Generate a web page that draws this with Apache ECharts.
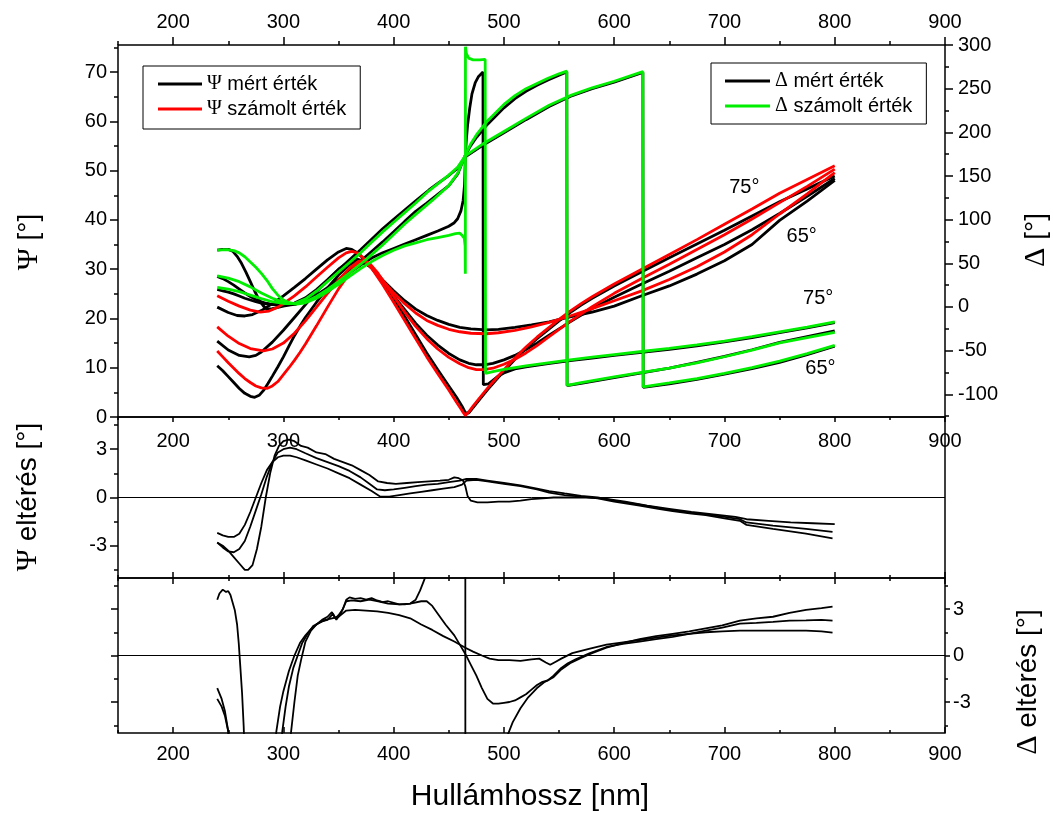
<!DOCTYPE html>
<html><head><meta charset="utf-8">
<script src="https://cdn.jsdelivr.net/npm/echarts@6/dist/echarts.min.js"></script>
<style>html,body{margin:0;padding:0;background:#fff}#c{width:1053px;height:814px}</style>
</head><body><div id="c"></div><script>
// ---------- tick values ----------
const xMajorTicks = [200,300,400,500,600,700,800,900];
const xMinorTicks = [150,250,350,450,550,650,750,850];
const psiMajorTicks = [0,10,20,30,40,50,60,70];
const psiMinorTicks = [5,15,25,35,45,55,65,75];
const deltaMajorTicks = [-100,-50,0,50,100,150,200,250,300];
const deltaMinorTicks = [-125,-75,-25,25,75,125,175,225,275];
const resMajorTicks = [-3,0,3];
const resMinorTicks = [-4.5,-1.5,1.5,4.5];

// ---------- Psi (left axis), [nm, deg] ----------
const psi75Meas = [[240,10.4],[245,9.4],[250,8.2],[255,7.0],[260,5.8],[265,4.8],[270,4.2],[274,4.0],[278,4.4],[282,5.4],[286,6.8],[290,8.3],[295,10.2],[300,12.2],[305,14.4],[310,16.5],[315,18.4],[320,20.2],[330,23.3],[340,26.2],[350,28.8],[360,30.9],[366,31.6],[370,31.5],[375,31.0],[380,30.5],[390,27.6],[400,24.0],[410,20.4],[420,16.7],[430,13.0],[440,9.6],[450,6.3],[457,4.0],[462,2.2],[465,0.9],[468,0.8],[472,1.9],[478,3.6],[485,5.5],[490,6.8],[500,9.3],[510,11.7],[520,13.9],[530,15.9],[541,17.9],[550,19.5],[560,21.2],[570,22.7],[580,24.1],[600,26.6],[625,29.5],[650,32.3],[675,35.1],[700,37.9],[725,40.8],[750,43.7],[775,46.3],[800,48.9]];
const psi75Calc = [[240,13.4],[245,12.2],[250,11.0],[255,9.9],[260,8.8],[265,7.8],[270,7.0],[275,6.3],[280,5.9],[285,5.8],[290,6.3],[295,7.2],[300,8.6],[305,10.0],[310,11.5],[315,13.1],[320,14.8],[330,18.5],[340,22.3],[350,26.0],[360,29.2],[366,30.8],[370,31.5],[373,31.6],[376,31.2],[380,30.2],[390,26.9],[400,23.3],[410,19.6],[420,15.9],[430,12.2],[440,8.8],[450,5.5],[457,3.0],[462,1.3],[465,0.3],[468,1.0],[472,2.2],[478,3.9],[485,5.8],[490,7.1],[500,9.6],[510,12.0],[520,14.2],[530,16.2],[541,18.2],[550,19.8],[560,21.5],[570,23.0],[580,24.4],[600,27.0],[625,30.0],[650,33.0],[675,36.0],[700,39.1],[725,42.2],[750,45.4],[775,48.2],[800,51.0]];
const psi70Meas = [[240,15.4],[250,13.6],[260,12.5],[269,12.2],[275,12.5],[280,13.2],[290,15.2],[300,17.6],[310,20.2],[320,22.8],[330,25.4],[340,27.8],[350,30.0],[360,31.6],[366,32.1],[372,31.7],[380,30.2],[390,27.4],[400,24.6],[410,21.8],[420,19.0],[430,16.6],[440,14.6],[450,12.9],[460,11.6],[468,10.9],[475,10.6],[482,10.6],[490,10.9],[500,11.6],[510,12.5],[520,13.7],[530,15.0],[541,16.6],[560,19.3],[580,22.0],[600,24.3],[625,27.0],[650,29.6],[675,32.3],[700,35.0],[725,38.0],[750,41.3],[775,44.8],[800,48.4]];
const psi70Calc = [[240,18.3],[250,16.4],[260,14.9],[270,13.9],[282,13.4],[290,13.8],[300,15.0],[310,17.0],[320,19.5],[330,22.3],[340,25.1],[350,27.8],[360,30.2],[368,31.6],[373,31.8],[378,31.2],[385,29.4],[390,27.8],[400,24.5],[410,21.3],[420,18.4],[430,15.9],[440,13.8],[450,12.1],[460,10.8],[468,10.0],[475,9.6],[482,9.6],[490,9.9],[500,10.7],[510,11.7],[520,13.0],[530,14.5],[541,16.3],[560,19.4],[580,22.4],[600,25.1],[625,28.1],[650,31.0],[675,34.0],[700,37.0],[725,40.2],[750,43.5],[775,46.8],[800,50.3]];
const psi65Meas = [[240,22.3],[250,21.2],[258,20.6],[265,20.5],[272,20.8],[280,21.6],[290,23.0],[300,24.6],[310,26.3],[320,28.1],[330,30.0],[340,31.9],[350,33.5],[357,34.2],[362,34.0],[368,33.2],[375,31.6],[380,30.3],[390,27.8],[400,25.6],[410,23.6],[420,21.9],[430,20.6],[440,19.6],[450,18.8],[460,18.2],[470,17.9],[484,17.7],[495,17.8],[510,18.2],[525,18.7],[541,19.3],[560,20.3],[580,21.3],[600,22.5],[625,24.6],[650,26.6],[675,29.0],[700,31.7],[725,35.0],[750,39.9],[775,43.8],[800,48.0]];
const psi65Calc = [[240,24.6],[250,23.5],[260,22.5],[270,21.7],[279,21.3],[287,21.5],[295,22.3],[300,23.0],[310,24.6],[320,26.4],[330,28.4],[340,30.4],[350,32.3],[357,33.3],[362,33.6],[367,33.3],[372,32.4],[380,30.4],[390,27.7],[400,25.2],[410,23.0],[420,21.1],[430,19.6],[440,18.6],[450,17.8],[460,17.3],[470,17.0],[484,16.9],[495,17.1],[510,17.6],[525,18.3],[541,19.2],[560,20.5],[580,22.0],[600,23.6],[625,25.6],[650,27.9],[675,30.5],[700,33.5],[725,37.0],[750,41.2],[775,45.3],[800,49.6]];

// ---------- Delta (right axis), [nm, deg] ----------
const delta75Meas = [[240,65],[245,66],[250,66],[254,64],[258,58],[262,50],[266,40],[270,29],[274,18],[278,8],[282,1],[285,-2.5],[290,-2],[295,-0.5],[300,1],[305,2],[310,3],[320,7],[330,13],[340,21],[350,30],[360,39],[370,48],[380,56],[390,62],[400,67],[410,72],[420,77],[430,82],[440,87],[450,92.5],[455,96.5],[458,101],[461,110],[463,122],[464.3,140],[465,172],[465.8,190],[467,208],[469,228],[471,244],[474,257],[477,264],[481,269],[481.3,-89],[486,-88],[490,-84],[495,-79],[500,-75.5],[510,-71],[520,-68.5],[540,-65],[560,-61.5],[580,-58.5],[600,-55.5],[625,-52],[650,-48.5],[675,-44.5],[700,-40],[725,-35],[750,-29.5],[775,-24],[800,-18]];
const delta75Calc = [[240,65],[245,65.5],[250,65.5],[255,64.5],[260,62],[265,57.5],[270,51.5],[275,45.5],[280,38.5],[285,30.5],[290,21],[295,13.5],[300,8],[305,5],[312,3.2],[320,4.8],[330,10],[340,17.5],[350,26],[360,35],[370,44],[380,52],[390,59],[400,65],[410,70],[420,73.5],[430,77],[440,79.5],[450,82],[456,84],[460,84.5],[462,82],[464,79],[464.8,70],[465,38],[465.1,298],[466,290],[468,285],[472,283],[478,283],[483,283.5],[483.3,-76],[490,-74],[500,-71.5],[520,-67.5],[540,-64],[560,-60.5],[580,-57.5],[600,-54.5],[625,-51],[650,-47.5],[675,-43.5],[700,-39],[725,-34],[750,-28.5],[775,-23],[800,-17]];
const delta70Meas = [[240,35],[245,32.5],[250,29],[255,25],[260,20.5],[265,16],[270,12],[275,8.5],[280,6],[285,4],[290,3],[300,2],[310,3],[320,6.5],[330,13.5],[340,22],[350,31.5],[360,42],[370,52.5],[380,63.5],[390,74.5],[400,86],[410,98],[420,109.5],[430,119],[440,129],[450,139],[458,152],[465,174],[470,185],[475,194],[485,209],[500,228],[510,238.5],[520,247],[530,254],[540,260],[550,265.5],[557,269],[557.3,-90],[570,-87.5],[600,-81],[625,-75.5],[650,-70],[675,-63.5],[700,-56.5],[725,-49],[750,-40.5],[775,-34],[800,-27.5]];
const delta70Calc = [[240,35.5],[250,33],[260,29],[270,23],[280,16],[290,10],[300,5.5],[310,3.5],[320,6],[330,12],[340,20],[350,29],[360,39],[370,49],[380,60],[390,71],[400,83],[410,95],[420,106],[435,122],[450,139],[458,153],[465,174],[470,187],[475,197],[485,213],[500,232],[510,242],[520,250],[530,256],[540,262],[550,267],[557,270],[557.3,-89.7],[570,-86.5],[600,-80],[625,-75],[650,-70],[675,-64],[700,-57],[725,-49.5],[750,-41],[775,-35],[800,-29]];
const delta65Meas = [[240,20],[245,18.5],[250,17],[255,15],[260,12.5],[265,10],[270,8],[275,6],[280,4.5],[290,2.8],[300,2.8],[310,4.5],[320,10.5],[330,20],[340,31],[350,42.5],[360,54],[370,65.5],[380,77.5],[390,89.5],[400,100.5],[410,111],[420,121.5],[432,134],[440,141.5],[450,150.5],[458,159],[465,172],[480,184.5],[500,199.5],[520,214.5],[541,229.5],[560,241],[580,250],[600,257.5],[626,268.5],[626.3,-92],[650,-88],[675,-83],[700,-77],[725,-70.5],[750,-63.5],[775,-54.5],[800,-45]];
const delta65Calc = [[240,22.3],[250,20.5],[260,17.5],[270,13.5],[280,9.5],[290,6],[300,4],[310,4],[320,9],[330,18],[340,29],[350,40],[360,51],[370,62],[380,74],[390,86],[400,97],[410,108],[420,119],[432,133],[440,141],[450,151],[458,160],[465,173],[480,186],[500,201],[520,216],[541,231],[560,242],[580,251],[600,258.5],[626,269.5],[626.3,-91.6],[650,-87],[675,-82],[700,-76],[725,-69.5],[750,-62],[775,-53.5],[800,-44]];

// ---------- Psi residuals (middle panel) ----------
const psiRes75 = [[240,-2.8],[245,-3.0],[250,-3.3],[255,-3.7],[260,-4.1],[265,-4.5],[268,-4.5],[272,-4.2],[276,-3.2],[280,-1.8],[284,0],[288,1.5],[292,2.6],[296,3.2],[300,3.5],[305,3.6],[310,3.5],[316,3.2],[322,3.1],[330,2.8],[338,2.7],[346,2.4],[354,2.2],[362,2.0],[370,1.7],[378,1.4],[386,1.0],[394,0.9],[402,0.85],[412,0.9],[422,0.95],[432,1.0],[442,1.05],[450,1.1],[455,1.25],[459,1.2],[463,1.05],[465,0.7],[467,0.1],[470,-0.2],[476,-0.3],[485,-0.3],[495,-0.25],[505,-0.25],[515,-0.2],[525,-0.1],[535,-0.05],[545,0.0],[560,0.0],[575,0.0],[590,-0.05],[610,-0.25],[630,-0.5],[650,-0.7],[670,-0.9],[690,-1.05],[710,-1.2],[720,-1.35],[740,-1.45],[760,-1.55],[780,-1.6],[800,-1.65]];
const psiRes70 = [[240,-2.8],[245,-3.1],[250,-3.35],[255,-3.4],[260,-3.2],[265,-2.7],[270,-1.8],[275,-0.8],[280,0.2],[285,1.3],[290,2.2],[295,2.8],[300,3.0],[306,3.1],[312,3.0],[320,2.75],[330,2.45],[340,2.2],[350,1.95],[360,1.65],[370,1.25],[378,0.85],[385,0.5],[392,0.45],[400,0.5],[410,0.6],[420,0.7],[430,0.8],[440,0.85],[450,0.95],[460,1.05],[466,1.15],[475,1.15],[485,1.05],[500,0.9],[515,0.75],[530,0.55],[541,0.4],[555,0.25],[570,0.1],[585,0.0],[600,-0.2],[623,-0.45],[640,-0.65],[653,-0.8],[670,-0.95],[683,-1.05],[700,-1.2],[714,-1.35],[720,-1.55],[744,-1.75],[774,-1.95],[798,-2.13]];
const psiRes65 = [[240,-2.2],[245,-2.35],[250,-2.45],[255,-2.45],[260,-2.25],[265,-1.7],[270,-0.9],[275,0.0],[280,0.9],[285,1.7],[290,2.2],[295,2.5],[300,2.6],[306,2.6],[312,2.5],[320,2.3],[330,2.05],[340,1.8],[350,1.5],[360,1.2],[370,0.8],[380,0.4],[388,0.05],[396,0.05],[405,0.15],[415,0.25],[425,0.35],[435,0.45],[445,0.55],[455,0.65],[462,0.8],[466,1.05],[475,1.1],[485,1.0],[500,0.85],[515,0.7],[530,0.5],[541,0.3],[555,0.15],[570,0.05],[585,-0.05],[600,-0.25],[623,-0.5],[640,-0.7],[653,-0.85],[670,-1.0],[683,-1.1],[700,-1.3],[714,-1.45],[720,-1.7],[744,-1.95],[774,-2.25],[798,-2.54]];

// ---------- Delta residuals (bottom panel) ----------
const deltaRes75 = [[240,3.6],[242,4.0],[245,4.25],[248,4.1],[250,4.15],[252,3.9],[254,3.4],[256,2.9],[258,2.0],[259.5,0.8],[261,-0.8],[262.5,-2.4],[264,-4.6],[266,-9],[270,-20],[275,-30],[285,-30],[295,-18],[300,-11],[304,-7],[307,-4.9],[310,-3.0],[313,-1.3],[316,-0.3],[320,0.9],[325,1.6],[330,2.0],[335,2.3],[340,2.5],[344,2.8],[347,2.4],[350,2.6],[354,3.0],[357,3.6],[360,3.75],[365,3.65],[370,3.7],[375,3.6],[380,3.7],[385,3.55],[390,3.45],[395,3.5],[400,3.4],[405,3.3],[410,3.3],[415,3.35],[420,3.6],[424,4.2],[428,4.93],[435,6.5],[445,9],[455,14],[462,25],[464.9,40],[465.1,-40],[470,-30],[480,-20],[490,-12],[497,-8],[503,-5.2],[508,-4.3],[515,-3.4],[522,-2.7],[530,-2.1],[537,-1.7],[545,-1.4],[552,-0.9],[560,-0.5],[570,-0.15],[580,0.15],[593,0.5],[608,0.8],[623,1.05],[638,1.25],[653,1.4],[668,1.55],[683,1.75],[698,1.95],[714,2.25],[729,2.4],[744,2.5],[759,2.75],[774,2.95],[788,3.05],[798,3.15]];
const deltaRes70 = [[240,-2.1],[244,-2.8],[247,-3.6],[250,-4.9],[254,-8],[260,-14],[270,-22],[280,-20],[288,-10],[293.6,-4.9],[297,-3.3],[300,-2.3],[305,-1.0],[310,0],[315,0.8],[320,1.3],[325,1.7],[330,2.0],[335,2.2],[340,2.3],[345,2.7],[348,2.3],[352,2.7],[357,3.5],[362,3.55],[370,3.5],[378,3.6],[386,3.5],[395,3.35],[405,3.3],[415,3.35],[425,3.5],[430,3.5],[435,3.2],[440,2.7],[447,2.0],[455,1.3],[460,0.7],[465,0.1],[470,-0.6],[475,-1.3],[480,-2.1],[485,-2.8],[490,-3.1],[495,-3.1],[500,-3.05],[505,-3.0],[510,-2.9],[515,-2.7],[520,-2.5],[525,-2.2],[530,-1.9],[535,-1.7],[540,-1.6],[545,-1.3],[552,-0.8],[558,-0.5],[565,-0.25],[578,0.15],[593,0.55],[608,0.75],[623,0.9],[638,1.05],[653,1.2],[668,1.4],[683,1.6],[698,1.8],[714,2.05],[729,2.1],[744,2.17],[759,2.25],[774,2.27],[788,2.3],[798,2.25]];
const deltaRes65 = [[240,-2.8],[244,-3.3],[247,-3.9],[250,-4.9],[254,-7.5],[260,-12],[270,-18],[285,-15],[293,-9],[299,-4.9],[302,-3.3],[305,-2.0],[309,-0.8],[313,0],[317,0.8],[322,1.4],[327,1.9],[332,2.1],[338,2.3],[344,2.4],[350,2.5],[357,2.9],[365,2.95],[375,2.9],[385,2.85],[395,2.75],[405,2.6],[415,2.4],[425,2.0],[435,1.65],[445,1.25],[455,0.9],[465,0.5],[472,0.25],[480,0.0],[487,-0.2],[495,-0.3],[505,-0.3],[515,-0.35],[525,-0.25],[532,-0.2],[538,-0.45],[542,-0.6],[547,-0.4],[552,-0.2],[562,0.15],[578,0.45],[593,0.7],[608,0.85],[623,1.0],[638,1.15],[653,1.3],[668,1.4],[683,1.5],[698,1.55],[714,1.6],[729,1.6],[744,1.6],[759,1.6],[774,1.6],[788,1.55],[798,1.47]];

// ---------- angle annotations ----------
const angleLabelsPsi = ['75°','65°'];
const angleLabelsDelta = ['75°','65°'];
const anchorPsi = [[718,46.6],[770,36.7]];
const anchorDelta = [[785,10],[787,-70]];

// ---------- layout / style ----------
const FONT = 'Liberation Sans, Arial, sans-serif';
const SERIF = 'Liberation Serif, Times New Roman, serif';
const BLACK = '#000000', RED = '#ff0000', GREEN = '#00ee00';

function xAx(grid, pos, ticks, len, inside, labels, margin){
  return {type:'value', gridIndex:grid, position:pos, min:150, max:900,
    axisLine:{show:false, onZero:false}, splitLine:{show:false},
    axisTick:{show:true, customValues:ticks, length:len, inside:inside, lineStyle:{color:'#000', width:1.5}},
    axisLabel:{show:!!labels, customValues:ticks, margin:margin||10, fontSize:20, color:'#000', fontFamily:FONT}};
}
function yAx(grid, pos, min, max, ticks, len, inside, labels, margin){
  return {type:'value', gridIndex:grid, position:pos, min:min, max:max,
    axisLine:{show:false, onZero:false}, splitLine:{show:false},
    axisTick:{show:!!ticks, customValues:ticks||[], length:len, inside:inside, lineStyle:{color:'#000', width:1.5}},
    axisLabel:{show:!!labels, customValues:ticks||[], margin:margin||10, fontSize:20, color:'#000', fontFamily:FONT}};
}

const xAxes = [
  xAx(0,'top',xMajorTicks,8,false,true,13),
  xAx(0,'top',xMinorTicks,4,false,false),
  xAx(0,'bottom',xMajorTicks,5,false,true,14),
  xAx(0,'bottom',xMinorTicks,3,false,false),
  xAx(1,'bottom',xMajorTicks,6,true,false),
  xAx(1,'bottom',xMinorTicks,3,true,false),
  xAx(2,'top',xMajorTicks,6,true,false),
  xAx(2,'top',xMinorTicks,3,true,false),
  xAx(2,'bottom',xMajorTicks,6,true,true,11),
  xAx(2,'bottom',xMinorTicks,3,true,false)
];
const yAxes = [
  yAx(0,'left',0,75.5,psiMajorTicks,8,false,true,11),
  yAx(0,'left',0,75.5,psiMinorTicks,4,false,false),
  yAx(0,'right',-126,300,deltaMajorTicks,8,false,true,13),
  yAx(0,'right',-126,300,deltaMinorTicks,4,false,false),
  yAx(1,'left',-5,5,resMajorTicks,8,false,true,11),
  yAx(1,'left',-5,5,resMinorTicks,4,false,false),
  yAx(2,'left',-5,5,resMajorTicks,7,false,false),
  yAx(2,'left',-5,5,resMinorTicks,4,false,false),
  yAx(2,'right',-5,5,resMajorTicks,5,false,true,8),
  yAx(2,'right',-5,5,resMinorTicks,3,false,false)
];

function line(name, data, xi, yi, color, width, z, extra){
  return Object.assign({type:'line', name:name, data:data, xAxisIndex:xi, yAxisIndex:yi,
    symbol:'none', showSymbol:false, clip:true, silent:true, z:z,
    lineStyle:{color:color, width:width}, itemStyle:{color:color}}, extra||{});
}
const zeroLine = {markLine:{silent:true, symbol:['none','none'], label:{show:false},
  lineStyle:{color:'#000', width:1, type:'solid'}, data:[{yAxis:0}]}};

const W = 2.8;
const series = [
  line('Ψ mért érték', psi75Meas, 0,0, BLACK, W, 2),
  line('Ψ mért érték', psi70Meas, 0,0, BLACK, W, 2),
  line('Ψ mért érték', psi65Meas, 0,0, BLACK, W, 2),
  line('Δ mért érték', delta75Meas, 0,2, BLACK, W, 2),
  line('Δ mért érték', delta70Meas, 0,2, BLACK, W, 2),
  line('Δ mért érték', delta65Meas, 0,2, BLACK, W, 2),
  line('Ψ számolt érték', psi75Calc, 0,0, RED, W, 3),
  line('Ψ számolt érték', psi70Calc, 0,0, RED, W, 3),
  line('Ψ számolt érték', psi65Calc, 0,0, RED, W, 3),
  line('Δ számolt érték', delta75Calc, 0,2, GREEN, W, 4),
  line('Δ számolt érték', delta70Calc, 0,2, GREEN, W, 4),
  line('Δ számolt érték', delta65Calc, 0,2, GREEN, W, 4),
  line('psiRes75', psiRes75, 4,4, BLACK, 1.8, 2, zeroLine),
  line('psiRes70', psiRes70, 4,4, BLACK, 1.8, 2),
  line('psiRes65', psiRes65, 4,4, BLACK, 1.8, 2),
  line('deltaRes75', deltaRes75, 6,6, BLACK, 1.8, 2, zeroLine),
  line('deltaRes70', deltaRes70, 6,6, BLACK, 1.8, 2),
  line('deltaRes65', deltaRes65, 6,6, BLACK, 1.8, 2)
];

const legendText = {fontSize:20, fontFamily:FONT, color:'#000',
  rich:{g:{fontFamily:SERIF, fontSize:20, color:'#000'}}};
const legendFmt = n => '{g|' + n.charAt(0) + '}' + n.slice(1);

const grids = [
  {left:118, top:45, width:827, height:372, show:true, borderColor:'#000', borderWidth:1.5, backgroundColor:'transparent'},
  {left:118, top:417, width:827, height:161, show:true, borderColor:'#000', borderWidth:1.5, backgroundColor:'transparent'},
  {left:118, top:578, width:827, height:155, show:true, borderColor:'#000', borderWidth:1.5, backgroundColor:'transparent'}
];

function vtitle(x, y, sym, rest){
  return {type:'text', x:x, y:y, rotation:Math.PI/2, z:10,
    style:{text:'{g|'+sym+'}'+rest, rich:{g:{fontFamily:SERIF, fontSize:30, fill:'#000'}},
      fontSize:28, fontFamily:FONT, fill:'#000', align:'center', verticalAlign:'middle'}};
}
const titles = [
  vtitle(29, 242, 'Ψ', ' [°]'),
  vtitle(28, 497, 'Ψ', ' eltérés [°]'),
  vtitle(1036, 240, 'Δ', ' [°]'),
  vtitle(1028, 682, 'Δ', ' eltérés [°]'),
  {type:'text', x:530, y:797, z:10,
   style:{text:'Hullámhossz [nm]', fontSize:30, fontFamily:FONT, fill:'#000', align:'center', verticalAlign:'middle'}}
];

const chart = echarts.init(document.getElementById('c'), null, {renderer:'canvas'});
chart.setOption({
  animation:false,
  backgroundColor:'#fff',
  grid:grids,
  xAxis:xAxes,
  yAxis:yAxes,
  legend:[
    {data:['Ψ mért érték','Ψ számolt érték'], orient:'vertical', left:143, top:66,
     padding:[8,14,10,15], itemGap:5, itemWidth:44, itemHeight:3, icon:'rect',
     borderColor:'#000', borderWidth:1, backgroundColor:'#fff', selectedMode:false,
     textStyle:legendText, formatter:legendFmt},
    {data:['Δ mért érték','Δ számolt érték'], orient:'vertical', left:711, top:63,
     padding:[8,14,8,14], itemGap:5, itemWidth:45, itemHeight:3, icon:'rect',
     borderColor:'#000', borderWidth:1, backgroundColor:'#fff', selectedMode:false,
     textStyle:legendText, formatter:legendFmt}
  ],
  graphic:titles,
  series:series
});

// angle annotations placed through the library's own coordinate conversion
function annot(txt, pt, yAxisIndex){
  const p = chart.convertToPixel({xAxisIndex:0, yAxisIndex:yAxisIndex}, pt);
  return {type:'text', x:p[0], y:p[1], z:10,
    style:{text:txt, fontSize:20, fontFamily:FONT, fill:'#000', align:'center', verticalAlign:'middle'}};
}
const annots = angleLabelsPsi.map((t,i)=>annot(t, anchorPsi[i], 0))
  .concat(angleLabelsDelta.map((t,i)=>annot(t, anchorDelta[i], 2)));
chart.setOption({graphic: titles.concat(annots)});
</script></body></html>
